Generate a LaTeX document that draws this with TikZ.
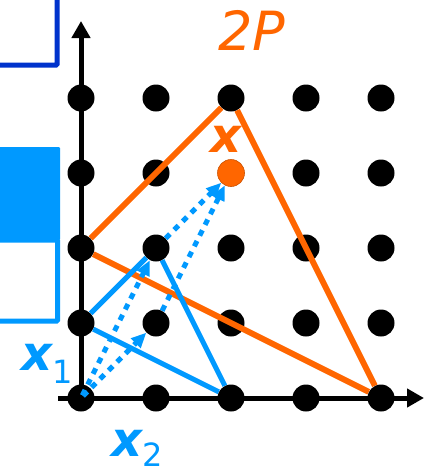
\documentclass[tikz,border=0pt]{standalone}
\usepackage{fontspec}
\setmainfont{DejaVu Sans}
\usetikzlibrary{arrows.meta}
\definecolor{orng}{RGB}{255,102,0}
\definecolor{lblue}{RGB}{0,153,255}
\definecolor{dblue}{RGB}{0,51,204}
\newcommand{\varxlab}[2]{{\fontsize{48}{48}\selectfont\bfseries\itshape x}\raisebox{#2}{\fontsize{32}{32}\selectfont #1}}
\begin{document}
\begin{tikzpicture}[x=1pt,y=-1pt,
  axis/.style={line width=5pt,-{Triangle[length=17pt,width=18pt]}},
  latdot/.style={circle,fill=black,inner sep=0pt,minimum size=27pt},
  xdot/.style={circle,fill=orng,draw=orng!80!black,line width=0.6pt,inner sep=0pt,minimum size=27pt},
  oline/.style={orng,line width=6pt},
  bline/.style={lblue,line width=5pt},
  dotarrow/.style={lblue,line width=5pt,dash pattern=on 6pt off 6pt,-{Triangle[length=15pt,width=13pt]}},
  boxline/.style={line width=5pt,rounded corners=1pt},
]
\useasboundingbox (0,0) rectangle (425,469);
% partial boxes at the left
\draw[boxline,dblue] (-10,-10) rectangle (57,65);
\fill[lblue,rounded corners=1pt] (-10,147) rectangle (60,240);
\draw[boxline,lblue] (-10,240) rectangle (57.5,321);
% axes
\coordinate (xs) at (58,398);
\coordinate (xe) at (424,398);
\coordinate (o) at (81,398);
\coordinate (ye) at (81,21);
\draw[axis] (xs) -- (xe);
\draw[axis] (o) -- (ye);
% lattice
\foreach \i in {0,...,4}{
  \foreach \j in {0,...,4}{
    \ifnum\numexpr\i*10+\j\relax=23 \else
      \node[latdot] (p\i\j) at (81+75*\i, 398-75*\j) {};
    \fi
  }
}
\node[xdot] (p23) at (231,173) {};
% 2P
\draw[oline] (p02) -- (p24);
\draw[oline] (p24) -- (p40);
\draw[oline] (p40) -- (p02);
% P
\draw[bline] (p01) -- (p12);
\draw[bline] (p12) -- (p20);
\draw[bline] (p20) -- (p01);
% dotted arrows
\draw[dotarrow,shorten <=3pt] (p00.center) -- (p12);
\draw[dotarrow,shorten <=3pt] (p00.center) -- (p11);
\draw[dotarrow] (p12) -- (p23);
\draw[dotarrow] (p11) -- (p23);
% labels
\node[orng,font=\fontsize{54}{54}\selectfont\itshape,anchor=base,inner sep=0pt] (lab2p) at (252,50) {2P};
\node[orng,font=\fontsize{48}{48}\selectfont\bfseries\itshape,anchor=base,inner sep=0pt] (labx) at (226,152) {x};
\node[lblue,anchor=base west,inner sep=0pt] (labx1) at (21,370) {\varxlab{1}{-13pt}};
\node[lblue,anchor=base west,inner sep=0pt] (labx2) at (111,456) {\varxlab{2}{-10pt}};
\end{tikzpicture}
\end{document}
